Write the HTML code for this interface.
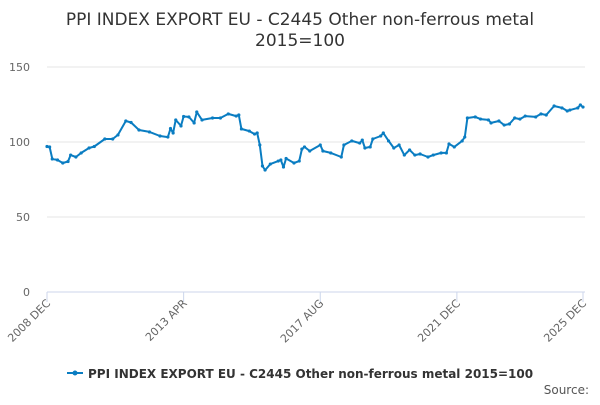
<!DOCTYPE html>
<html><head><meta charset="utf-8"><style>
body{margin:0;background:#fff;font-family:"Liberation Sans","DejaVu Sans",sans-serif;}
</style></head><body>
<svg id="chart" width="600" height="400" xmlns="http://www.w3.org/2000/svg" font-family="DejaVu Sans, Liberation Sans, sans-serif">
<text x="300" y="25" text-anchor="middle" font-size="17" fill="#333">PPI INDEX EXPORT EU - C2445 Other non-ferrous metal</text>
<text x="300" y="46" text-anchor="middle" font-size="17" fill="#333">2015=100</text>
<g id="grid"></g><g id="xaxis"></g><g id="series"></g>
<g>
<line x1="67" y1="373" x2="83" y2="373" stroke="#0a7dc2" stroke-width="2"/>
<circle cx="75" cy="373" r="2.5" fill="#0a7dc2"/>
<text x="88" y="378" font-size="12" font-weight="bold" fill="#333">PPI INDEX EXPORT EU - C2445 Other non-ferrous metal 2015=100</text>
</g>
<text x="589" y="394" text-anchor="end" font-size="12" fill="#555">Source:</text>
</svg>
<script>
const months=[0,1,2,4,6,8,9,11,13,16,18,22,25,27,30,32,35,39,43,46,47,48,49,51,52,54,56,57,59,63,66,69,72,73,74,77,79,80,81,82,83,85,88,89,90,91,94,96,97,98,100,104,105,108,112,113,116,119,120,121,123,124,127,128,130,132,134,136,138,140,142,145,147,150,152,153,155,158,159,160,163,165,168,169,172,174,176,178,180,182,186,188,190,193,196,198,199,202,203,204];
const values=[97,96.7,88.7,88,86,87,91.3,90,92.7,96,97,102,102,104.7,114,113,108,106.7,104,103.3,109,106,114.7,110.7,117,116.7,112.7,120,114.7,116,116,118.7,117.3,118,108.7,107.3,105.3,106,98,84,81.3,85.3,87.3,88,83.3,89,86,87.3,95.3,96.7,94,98,94,92.7,90,98,100.7,99.3,101.3,96,96.7,102,104,106,100.7,96,98,91.3,94.7,91.3,92,90,91.3,92.7,92.7,98.7,96.7,100.7,103.3,116,116.7,115.3,114.7,112.7,114,111.3,112,116,115.3,117.3,116.7,118.7,118,124,122.7,120.7,121.3,122.7,124.7,123.3];
const yTicks=[0,50,100,150];
const xTickMonths=[0,52,104,156,204];
const xTickLabels=["2008 DEC","2013 APR","2017 AUG","2021 DEC","2025 DEC"];
const NS="http://www.w3.org/2000/svg";
const x0=47,x1=583,y0=292,yTop=67,maxM=204,maxV=150;
const X=m=>x0+(x1-x0)*m/maxM;
const Y=v=>y0-(y0-yTop)*v/maxV;
function mk(t,a,p){const e=document.createElementNS(NS,t);for(const k in a)e.setAttribute(k,a[k]);p.appendChild(e);return e;}
const grid=document.getElementById('grid');
yTicks.forEach(v=>{
 const l=mk('line',{x1:x0,x2:585,y1:Y(v),y2:Y(v),stroke:v===0?'#ccd6eb':'#e6e6e6','stroke-width':1},grid);
 
 
 const t=mk('text',{x:30,y:Y(v)+4,'text-anchor':'end','font-size':11,fill:'#666'},grid);
 t.textContent=v;
 
 
});
const xa=document.getElementById('xaxis');
xTickMonths.forEach((m,i)=>{
 const tk=mk('line',{x1:X(m),x2:X(m),y1:y0,y2:y0+10,stroke:'#ccd6eb'},xa);
 
 
 const t=mk('text',{x:X(m)+4,y:y0+12,'text-anchor':'end','font-size':11,fill:'#666',transform:`rotate(-45 ${X(m)+4} ${y0+12})`},xa);
 t.textContent=xTickLabels[i];
 
 
});
const s=document.getElementById('series');
const pts=months.map((m,i)=>X(m).toFixed(1)+','+Y(values[i]).toFixed(1)).join(' ');
const pl=mk('polyline',{points:pts,fill:'none',stroke:'#0a7dc2','stroke-width':2,'stroke-linejoin':'round'},s);


months.forEach((m,i)=>{
 const c=mk('circle',{cx:X(m),cy:Y(values[i]),r:1.6,fill:'#0a7dc2'},s);
 
 
});
</script>
</body></html>
